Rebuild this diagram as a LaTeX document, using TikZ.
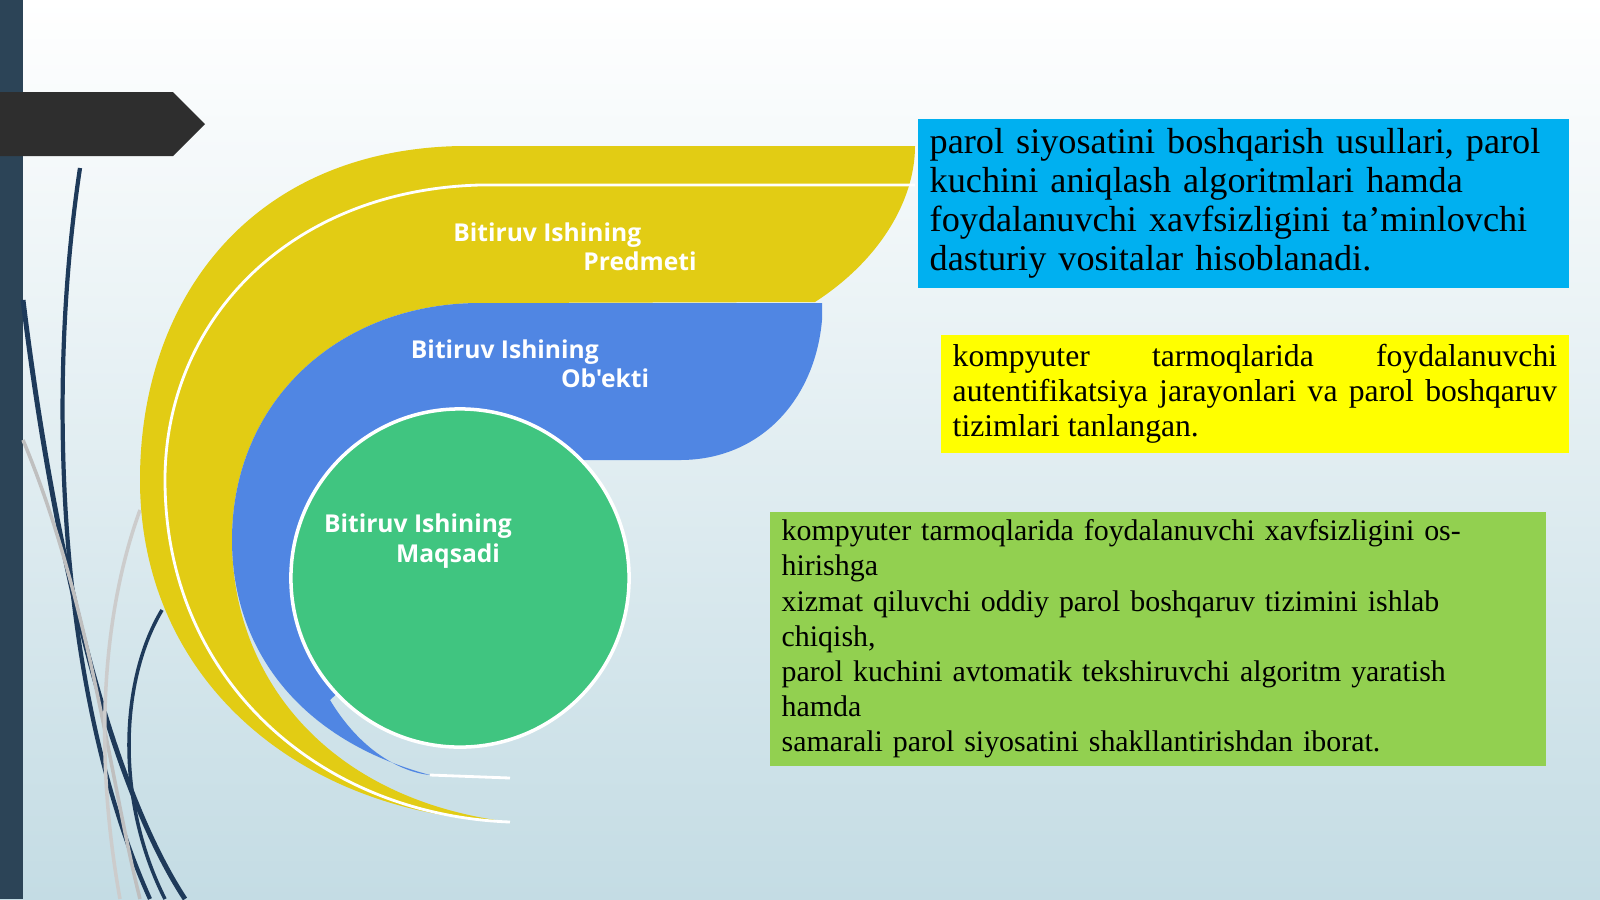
\documentclass[tikz,border=0pt]{standalone}
\usepackage{fontspec}
\setmainfont{Liberation Serif}
\newfontfamily\labelfont{Open Sans}
\usetikzlibrary{positioning}
\definecolor{sideblue}{RGB}{44,68,87}
\definecolor{swyellow}{RGB}{226,204,20}
\definecolor{swblue}{RGB}{80,134,227}
\definecolor{swgreen}{RGB}{64,197,128}
\definecolor{boxblue}{RGB}{0,176,240}
\definecolor{boxyellow}{RGB}{255,255,0}
\definecolor{boxgreen}{RGB}{146,208,80}
\definecolor{linedark}{RGB}{30,58,90}
\tikzset{
  swlabel/.style={text=white, font=\labelfont\bfseries\fontsize{7}{8.3}\selectfont, align=left},
  infobox/.style={anchor=north west, inner xsep=0.12cm, inner ysep=0.08cm, font=\fontsize{9}{10}\selectfont}
}
\begin{document}
\begin{tikzpicture}[x=0.01cm,y=-0.01cm]
\useasboundingbox (0,0) rectangle (1600,899);
% background
\shade[top color=white, bottom color={rgb,255:red,196;green,220;blue,228}] (0,0) rectangle (1600,899);
\fill[sideblue] (0,0) rectangle (23,899);
\fill[black!82] (0,92) -- (173,92) -- (205,124) -- (173,156) -- (0,156) -- cycle;
% thin lines
\draw[linedark, line width=1.2pt] (80,168) .. controls (45,400) and (60,700) .. (150,899);
\draw[linedark, line width=1.4pt] (23,300) .. controls (60,600) and (120,800) .. (185,899);
\draw[gray!50, line width=1pt] (23,440) .. controls (90,600) and (110,780) .. (140,899);
\draw[linedark, line width=1pt] (162,610) .. controls (120,680) and (115,800) .. (165,899);
\draw[gray!40, line width=1pt] (140,510) .. controls (100,620) and (95,760) .. (120,899);
% swoosh
\fill[swyellow] (915,146) -- (460,146) .. controls (250,150) and (140,300) .. (140,480)
  .. controls (140,680) and (300,815) .. (510,822)
  .. controls (330,800) and (232,680) .. (232,540) .. controls (232,400) and (340,303) .. (480,303)
  -- (815,302) .. controls (880,260) and (915,200) .. (915,146) -- cycle;
\draw[white, line width=0.8pt] (915,185) -- (480,185) .. controls (290,190) and (165,320) .. (165,480)
  .. controls (165,680) and (320,815) .. (510,822);
\fill[swblue] (480,303) -- (822,303) -- (822,320) .. controls (815,400) and (760,460) .. (680,460)
  -- (575,460) -- (460,580) -- (330,700) .. controls (360,750) and (400,772) .. (430,775)
  .. controls (300,740) and (232,650) .. (232,540) .. controls (232,400) and (340,303) .. (480,303) -- cycle;
\draw[white, line width=0.8pt] (430,775) -- (510,778);
\node[circle, fill=swgreen, draw=white, line width=1pt, minimum width=3.38cm, inner sep=0pt] (goal) at (460,578) {};
\node[swlabel] (subject) at (575,247) {Bitiruv Ishining\\\hspace*{1.3cm}Predmeti};
\node[swlabel] (object) at (530,364) {Bitiruv Ishining\\\hspace*{1.5cm}Ob'ekti};
\node[swlabel] (aim) at (418,541) {Bitiruv Ishining\\\hspace*{0.72cm}Maqsadi};
% boxes
\node[infobox, fill=boxblue, text width=6.27cm, minimum height=1.69cm, align=left,
  font=\fontsize{10.3}{11.1}\selectfont] (subjectbox) at (917,118)
  {parol siyosatini boshqarish usullari, parol\\ kuchini aniqlash algoritmlari hamda\\ foydalanuvchi xavfsizligini ta’minlovchi\\ dasturiy vositalar hisoblanadi.};
\node[infobox, fill=boxyellow, text width=6.04cm, minimum height=1.18cm, align=justify] (objectbox) at (940,334)
  {\hyphenpenalty=10000 kompyuter tarmoqlarida foydalanuvchi\linebreak autentifikatsiya jarayonlari va parol boshqaruv\linebreak tizimlari tanlangan.};
\node[infobox, fill=boxgreen, text width=7.52cm, minimum height=1.53cm, align=left,
  font=\fontsize{8.5}{10}\selectfont] (aimbox) at (769,511)
  {kompyuter tarmoqlarida foydalanuvchi xavfsizligini oshirishga\\ xizmat qiluvchi oddiy parol boshqaruv tizimini ishlab chiqish,\\ parol kuchini avtomatik tekshiruvchi algoritm yaratish hamda\\ samarali parol siyosatini shakllantirishdan iborat.};
\end{tikzpicture}
\end{document}
